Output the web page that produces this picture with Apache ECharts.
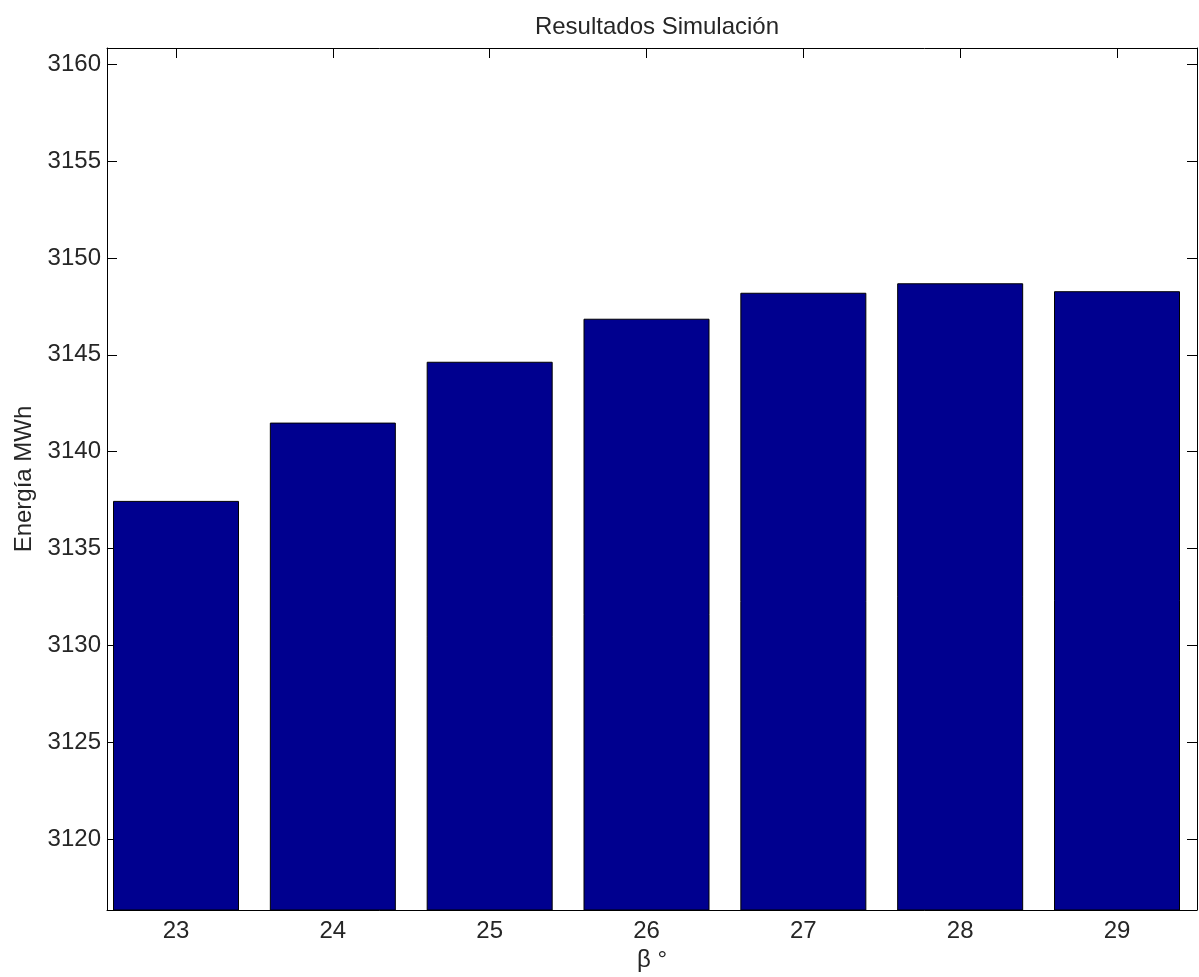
<!DOCTYPE html>
<html>
<head>
<meta charset="utf-8">
<script src="https://cdn.jsdelivr.net/npm/echarts@6/dist/echarts.min.js"></script>
<style>
html,body{margin:0;padding:0;background:#fff;}
#c{width:1199px;height:977px;}
</style>
</head>
<body>
<div id="c"></div>
<script>
// Data
const categories = [23, 24, 25, 26, 27, 28, 29];
const energy = [3137.46, 3141.50, 3144.64, 3146.86, 3148.20, 3148.69, 3148.28];
const yTicks = [3120, 3125, 3130, 3135, 3140, 3145, 3150, 3155, 3160];
const xTicks = categories;
const titleText = 'Resultados Simulación';
const yLabel = 'Energía MWh';
const xLabel = 'β °';

const chart = echarts.init(document.getElementById('c'));
const font = 'Liberation Sans, Arial, sans-serif';
const txt = '#262626';
const fs = 24;
const xMin = 22.56, xMax = 29.51, yMin = 3116.35, yMax = 3160.83;

const axisLineStyle = { show: true, lineStyle: { color: '#000', width: 1 } };
const tickStyle = { show: true, inside: true, length: 10, lineStyle: { color: '#000', width: 1 } };
const plain = v => String(v);

chart.setOption({
  animation: false,
  backgroundColor: '#fff',
  title: {
    text: titleText, left: 652, textAlign: 'center', top: 10,
    textStyle: { fontFamily: font, fontSize: fs, fontWeight: 'normal', color: txt }
  },
  grid: { left: 107, right: 2, top: 48, bottom: 67, containLabel: false },
  xAxis: [
    {
      type: 'value', min: xMin, max: xMax, position: 'bottom',
      name: xLabel, nameLocation: 'middle', nameGap: 37,
      nameTextStyle: { fontFamily: font, fontSize: fs, color: txt },
      axisLine: axisLineStyle,
      axisTick: Object.assign({ customValues: xTicks }, tickStyle),
      axisLabel: { customValues: xTicks, formatter: plain, margin: 9, fontFamily: font, fontSize: fs, color: txt },
      splitLine: { show: false }
    },
    {
      type: 'value', min: xMin, max: xMax, position: 'top',
      axisLine: axisLineStyle,
      axisTick: Object.assign({ customValues: xTicks }, tickStyle),
      axisLabel: { show: false, customValues: xTicks },
      splitLine: { show: false }
    }
  ],
  yAxis: [
    {
      type: 'value', min: yMin, max: yMax, position: 'left',
      name: yLabel, nameLocation: 'middle', nameGap: 71,
      nameTextStyle: { fontFamily: font, fontSize: fs, color: txt },
      axisLine: axisLineStyle,
      axisTick: Object.assign({ customValues: yTicks }, tickStyle),
      axisLabel: { customValues: yTicks, formatter: plain, margin: 6, fontFamily: font, fontSize: fs, color: txt },
      splitLine: { show: false }
    },
    {
      type: 'value', min: yMin, max: yMax, position: 'right',
      axisLine: axisLineStyle,
      axisTick: Object.assign({ customValues: yTicks }, tickStyle),
      axisLabel: { show: false, customValues: yTicks },
      splitLine: { show: false }
    }
  ],
  series: [{
    type: 'bar',
    xAxisIndex: 0, yAxisIndex: 0,
    data: categories.map((c, i) => [c, energy[i]]),
    barWidth: 126,
    clip: true,
    itemStyle: { color: '#00008F', borderColor: '#000', borderWidth: 1 }
  }]
});
</script>
</body>
</html>
